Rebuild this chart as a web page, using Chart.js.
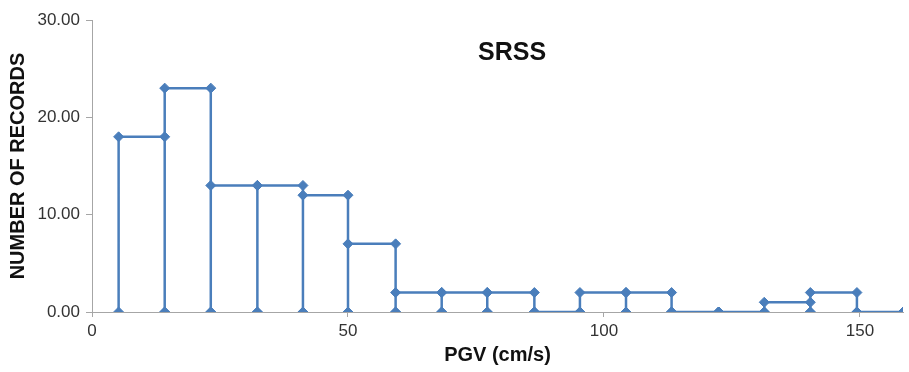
<!DOCTYPE html>
<html>
<head>
<meta charset="utf-8">
<script src="https://cdn.jsdelivr.net/npm/chart.js@4.4.1/dist/chart.umd.min.js"></script>
<style>
  html, body { margin: 0; padding: 0; background: #fff; }
  #wrap { width: 909px; height: 372px; position: relative; }
</style>
</head>
<body>
<div id="wrap"><canvas id="myChart"></canvas></div>
<script>
// bin edges (cm/s)
const binEdges = [5.2, 14.2, 23.2, 32.3, 41.2, 50.0, 59.3, 68.3, 77.2, 86.4, 95.3, 104.3, 113.2, 122.4, 131.3, 140.3, 149.4, 158.4];
// number of records per bin
const binCounts = [18, 23, 13, 13, 12, 7, 2, 2, 2, 0, 2, 2, 0, 0, 1, 2, 0];
const xTicks = [0, 50, 100, 150];
const yTicks = [0, 10, 20, 30];
const chartTitle = 'SRSS';

// histogram outline: each bin goes up, across, back down
const points = [];
binCounts.forEach(function(h, i) {
  points.push({x: binEdges[i], y: 0});
  points.push({x: binEdges[i], y: h});
  points.push({x: binEdges[i + 1], y: h});
  points.push({x: binEdges[i + 1], y: 0});
});

const innerTitle = {
  id: 'innerTitle',
  afterDraw: function(chart) {
    const a = chart.chartArea;
    const c = chart.ctx;
    c.save();
    c.font = 'bold 25px "Liberation Sans", Arial, sans-serif';
    c.fillStyle = '#111';
    c.textAlign = 'center';
    c.textBaseline = 'middle';
    c.fillText(chartTitle, a.left + (a.right - a.left) * 0.518, a.top + (a.bottom - a.top) * 0.112);
    c.restore();
  }
};

const ctx = document.getElementById('myChart');
const axisGray = '#a6a6a6';
const tickFont = {family: '"Liberation Sans", Arial, sans-serif', size: 17};
const titleFont = {family: '"Liberation Sans", Arial, sans-serif', size: 20, weight: 'bold'};

new Chart(ctx, {
  type: 'line',
  data: {
    datasets: [{
      data: points,
      borderColor: '#4a7ebb',
      backgroundColor: '#4a7ebb',
      borderWidth: 2.5,
      pointStyle: 'rectRot',
      pointRadius: 5,
      pointBorderWidth: 1,
      fill: false,
      tension: 0
    }]
  },
  options: {
    responsive: true,
    maintainAspectRatio: false,
    animation: false,
    layout: { padding: { left: 0, right: 3, top: 20, bottom: 0 } },
    plugins: {
      legend: { display: false },
      tooltip: { enabled: false }
    },
    scales: {
      x: {
        type: 'linear',
        min: 0,
        max: binEdges[binEdges.length - 1],
        afterBuildTicks: function(scale) {
          scale.ticks = xTicks.map(function(v) { return {value: v}; });
        },
        afterFit: function(scale) { scale.height = 60; },
        border: { color: axisGray, width: 1 },
        grid: { drawOnChartArea: false, color: axisGray, tickLength: 5 },
        ticks: { color: '#333', font: tickFont, padding: 4, maxRotation: 0 },
        title: { display: true, text: 'PGV (cm/s)', color: '#111', font: titleFont, padding: { top: 0, bottom: 5 } }
      },
      y: {
        min: 0,
        max: 30,
        afterBuildTicks: function(scale) {
          scale.ticks = yTicks.map(function(v) { return {value: v}; });
        },
        afterFit: function(scale) { scale.width = 92; },
        border: { color: axisGray, width: 1 },
        grid: { drawOnChartArea: false, color: axisGray, tickLength: 6 },
        ticks: {
          color: '#333',
          font: tickFont,
          padding: 6,
          callback: function(v) { return Number(v).toFixed(2); }
        },
        title: { display: true, text: 'NUMBER OF RECORDS', color: '#111', font: titleFont, padding: { top: 6, bottom: 0 } }
      }
    }
  },
  plugins: [innerTitle]
});
</script>
</body>
</html>
